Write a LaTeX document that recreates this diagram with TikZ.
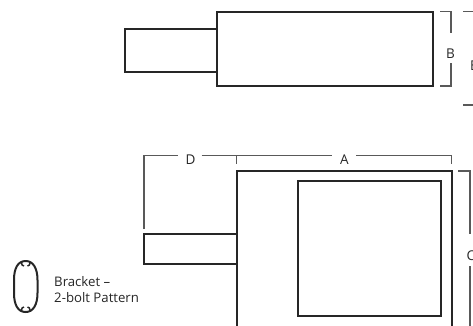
\documentclass[tikz,border=0pt]{standalone}
\usepackage{fontspec}
\setmainfont{Open Sans}
\tikzset{
  body/.style={draw=black!85,line width=2pt,line join=miter},
  dim/.style={draw=black!65,line width=1.3pt},
  lab/.style={font=\fontsize{13.5}{15}\selectfont,text=black!85,inner sep=0pt},
  note/.style={font=\fontsize{13.2}{15.5}\selectfont,text=black!85,inner sep=0pt,anchor=west}
}
\begin{document}
\begin{tikzpicture}[x=1pt,y=-1pt]
\useasboundingbox (0,0) rectangle (473,325);
\clip (0,0) rectangle (473,325);
% top view
\draw[body] (124.5,28.5) rectangle (217,71.7);
\draw[body] (217,11.7) rectangle (432.5,86);
% B
\draw[dim] (440,11.7) -- (451,11.7) -- (451,32.5);
\draw[dim] (451,63) -- (451,86) -- (440,86);
\node[lab] (labB) at (450.5,54) {B};
% E
\draw[dim] (463,11.7) -- (473,11.7);
\draw[dim] (463,105) -- (473,105);
\node[lab,anchor=west] (labE) at (470,66) {E};
% lower view
\draw[body] (143.7,234) rectangle (236.7,263.7);
\draw[body] (236.7,330) -- (236.7,171) -- (451.7,171) -- (451.7,330);
\draw[body] (298.3,180.7) rectangle (441,315.7);
% D and A
\draw[dim] (144,229) -- (144,155.7) -- (178,155.7);
\draw[dim] (201.7,155.7) -- (331.7,155.7);
\draw[dim] (356,155.7) -- (451.7,155.7) -- (451.7,164);
\draw[dim] (236.7,155.7) -- (236.7,164);
\node[lab] (labD) at (190.5,160) {D};
\node[lab] (labA) at (344.5,160) {A};
% C
\draw[dim] (458,171) -- (470,171) -- (470,233.5);
\draw[dim] (470,266) -- (470,330);
\node[lab,anchor=west] (labC) at (466.5,255.5) {C};
% bracket icon
\draw[body] (14,280) .. controls (14,268) and (18,261) .. (25.7,261)
  .. controls (33,261) and (37.5,268) .. (37.5,280) -- (37.5,293)
  .. controls (37.5,305) and (33,312) .. (25.7,312)
  .. controls (18,312) and (14,305) .. (14,293) -- cycle;
\draw[body,line width=1.5pt] (21.5,261.5) .. controls (21.5,265) and (22.5,266) .. (24,266);
\draw[body,line width=1.5pt] (30,261.5) .. controls (30,265) and (29,266) .. (27.5,266);
\draw[body,line width=1.5pt] (21.5,311.5) .. controls (21.5,308) and (22.5,307) .. (24,307);
\draw[body,line width=1.5pt] (30,311.5) .. controls (30,308) and (29,307) .. (27.5,307);
\node[note,align=left] (lab) at (54,289.5) {Bracket --\\2-bolt Pattern};
\end{tikzpicture}
\end{document}
